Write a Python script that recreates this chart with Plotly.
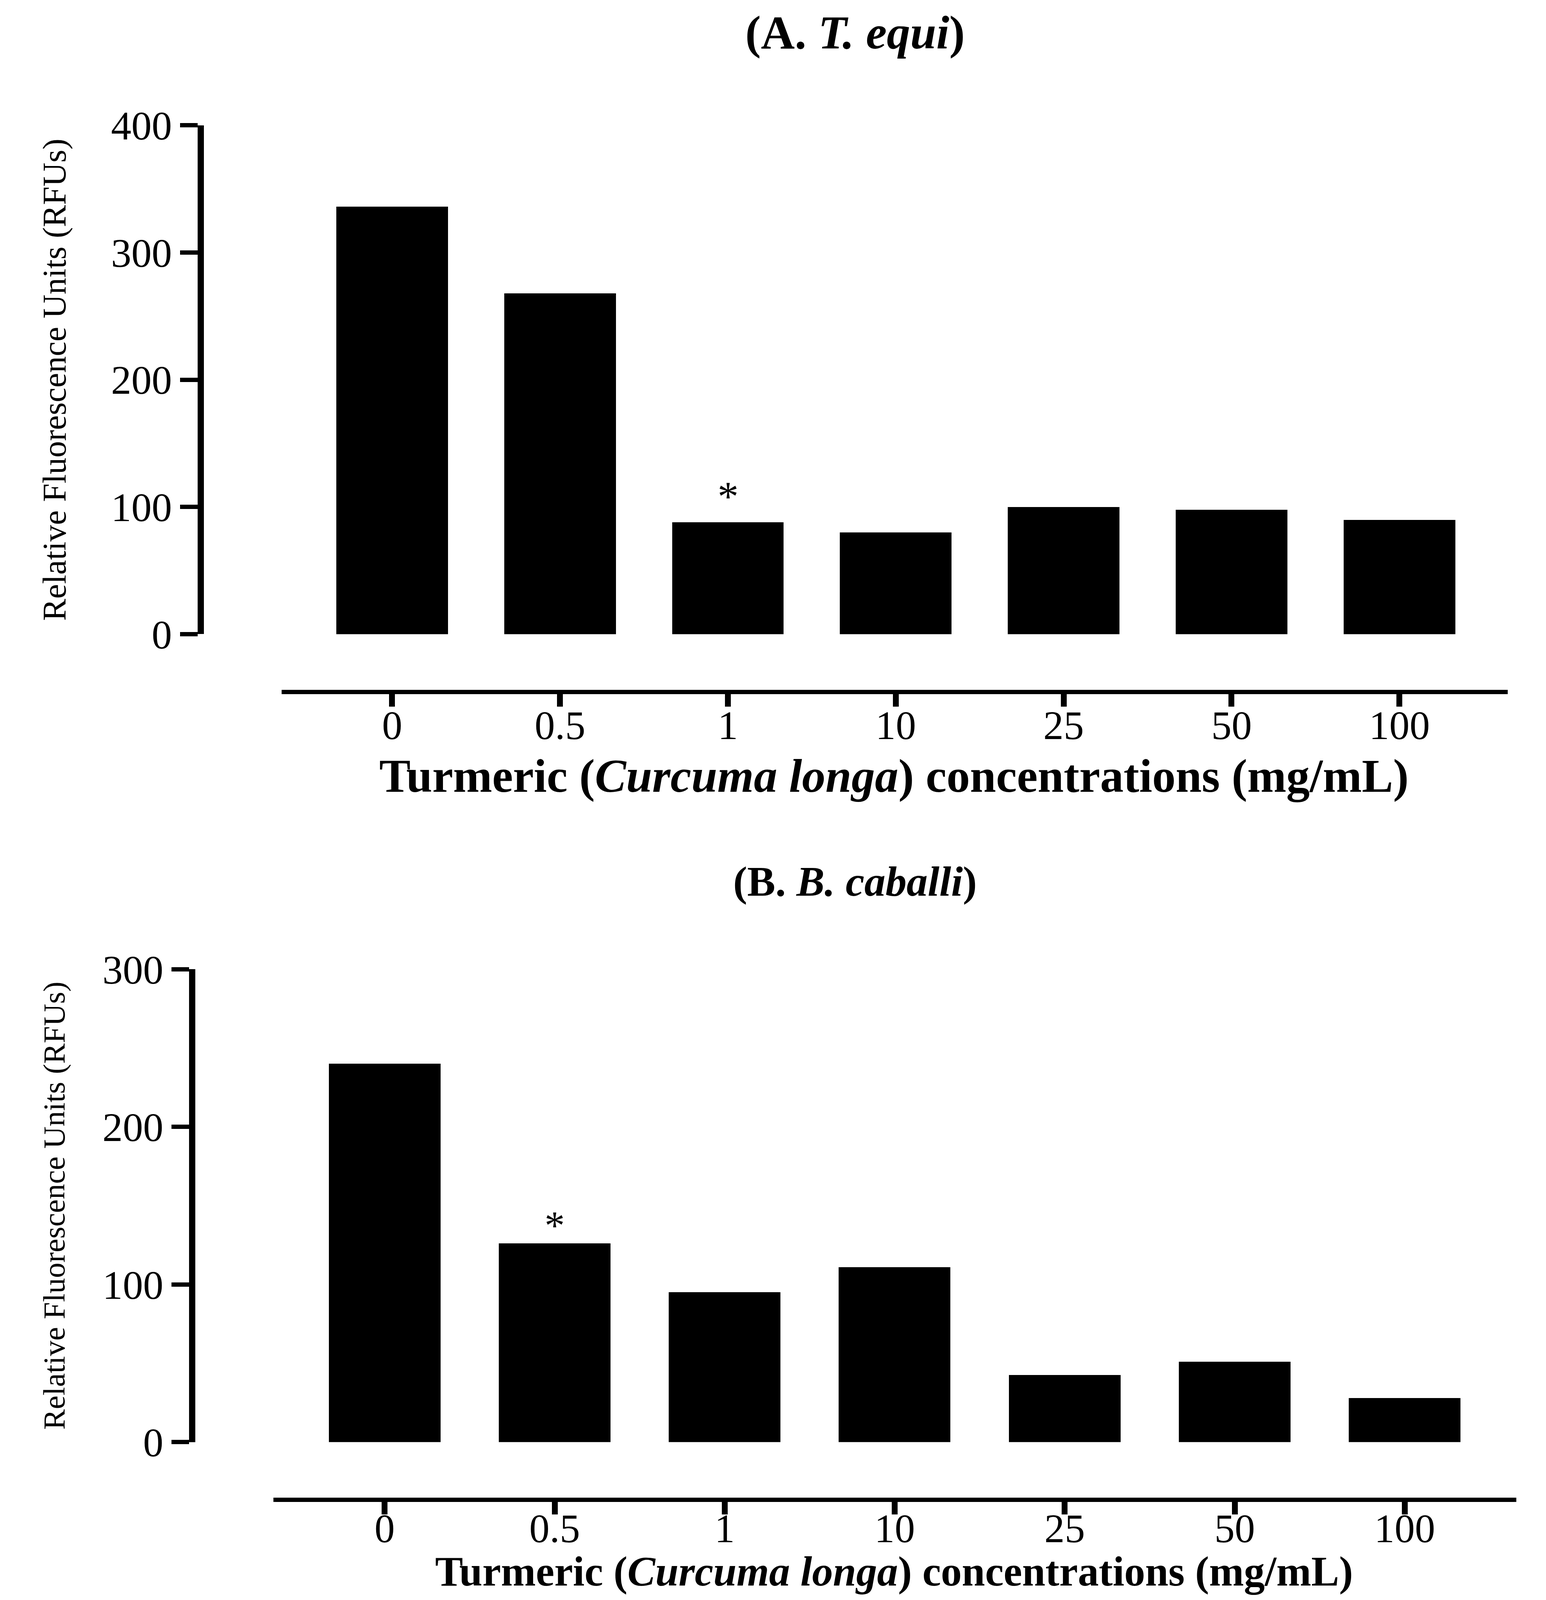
import plotly.graph_objects as go

# reference canvas (positions below are expressed as fractions of it)
REF_W, REF_H = 3958, 5180

categories = ["0", "0.5", "1", "10", "25", "50", "100"]
values_A = [336, 268, 88, 80, 100, 98, 90]
values_B = [240, 126, 95, 111, 42.5, 51, 28]
yticks_A = [0, 100, 200, 300, 400]
yticks_B = [0, 100, 200, 300]
star_A_index = 2
star_B_index = 1

title_A = "<b>(A. <i>T. equi</i>)</b>"
title_B = "<b>(B. <i>B. caballi</i>)</b>"
xtitle = "<b>Turmeric (<i>Curcuma longa</i>) concentrations (mg/mL)</b>"
ytitle = "Relative Fluorescence Units (RFUs)"

FONT = "Liberation Serif, Times New Roman, serif"


def fx(x):
    return x / REF_W


def fy(y):
    return 1 - y / REF_H


fig = go.Figure()
fig.add_trace(go.Bar(x=categories, y=values_A, width=0.665,
                     marker=dict(color="black", line=dict(width=0)),
                     xaxis="x", yaxis="y", showlegend=False))
fig.add_trace(go.Bar(x=categories, y=values_B, width=0.657,
                     marker=dict(color="black", line=dict(width=0)),
                     xaxis="x2", yaxis="y2", showlegend=False))

common_x = dict(type="category", showgrid=False, zeroline=False, showline=True, linecolor="black",
                linewidth=11, ticks="outside", ticklen=32, tickwidth=15, tickcolor="black",
                tickfont=dict(family=FONT, size=104, color="black"), anchor="free", automargin=False)
common_y = dict(showgrid=False, zeroline=False, showline=True, linecolor="black",
                linewidth=16, ticks="outside", ticklen=45, tickwidth=11, tickcolor="black",
                tickfont=dict(family=FONT, size=104, color="black"), anchor="free", automargin=False)

fig.update_layout(
    autosize=True,
    margin=dict(l=0, r=0, t=0, b=0),
    paper_bgcolor="white", plot_bgcolor="white",
    bargap=0,
    xaxis=dict(common_x, domain=[fx(716), fx(3868)], range=[-0.658, 6.646], position=fy(2238),
               ticklabelstandoff=-42),
    yaxis=dict(common_y, domain=[fy(2051), fy(397)], range=[0, 400], tickvals=yticks_A,
               position=fx(508),
               title=dict(text=ytitle, font=dict(family=FONT, size=85, color="black"), standoff=86)),
    xaxis2=dict(common_x, domain=[fx(695), fx(3890)], range=[-0.654, 6.657], position=fy(4864),
                ticklabelstandoff=-54),
    yaxis2=dict(common_y, domain=[fy(4677), fy(3140)], range=[0, 300], tickvals=yticks_B,
                position=fx(486),
                title=dict(text=ytitle, font=dict(family=FONT, size=79, color="black"), standoff=70)),
    annotations=[
        dict(text=title_A, x=fx(2190), y=fy(96), xref="paper", yref="paper", showarrow=False,
             xanchor="center", yanchor="middle", font=dict(family=FONT, size=120, color="black")),
        dict(text=title_B, x=fx(2190), y=fy(2855), xref="paper", yref="paper", showarrow=False,
             xanchor="center", yanchor="middle", font=dict(family=FONT, size=108, color="black")),
        dict(text=xtitle, x=fx(2290), y=fy(2512), xref="paper", yref="paper", showarrow=False,
             xanchor="center", yanchor="middle", font=dict(family=FONT, size=120, color="black")),
        dict(text=xtitle, x=fx(2290), y=fy(5098), xref="paper", yref="paper", showarrow=False,
             xanchor="center", yanchor="middle", font=dict(family=FONT, size=107, color="black")),
        dict(text="*", x=star_A_index, y=values_A[star_A_index], xref="x", yref="y",
             showarrow=False, xanchor="center", yanchor="middle", yshift=66,
             font=dict(family=FONT, size=108, color="black")),
        dict(text="*", x=star_B_index, y=values_B[star_B_index], xref="x2", yref="y2",
             showarrow=False, xanchor="center", yanchor="middle", yshift=47,
             font=dict(family=FONT, size=104, color="black")),
    ],
)

fig.write_html("out.html", default_width="calc(100vw - 16px)", default_height="calc(100vh - 16px)")
